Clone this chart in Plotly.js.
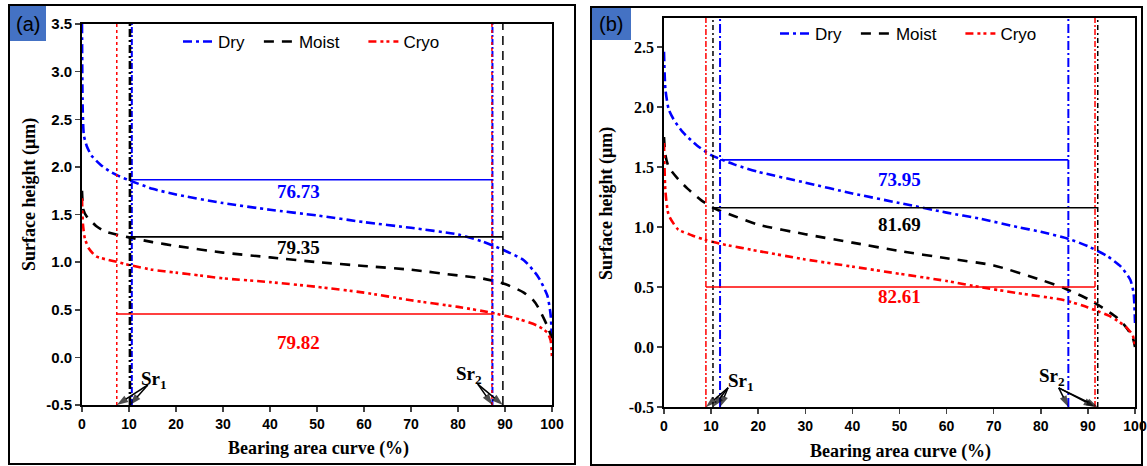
<!DOCTYPE html>
<html>
<head>
<meta charset="utf-8">
<script src="https://cdn.plot.ly/plotly-3.0.1.min.js"></script>
<style>html,body{margin:0;padding:0;background:#fff;}#chart{width:1147px;height:466px;}</style>
</head>
<body>
<div id="chart"></div>
<script>
// ---------- Panel (a) data ----------
const seriesNames = ['Dry', 'Moist', 'Cryo'];
const xA_dry   = [0, 0.15, 0.4, 1, 2, 4, 6, 8, 10, 15, 20, 30, 40, 50, 60, 70, 80, 85, 90, 94, 97, 99, 99.7, 100];
const yA_dry   = [3.5, 2.6, 2.33, 2.22, 2.12, 2.02, 1.95, 1.9, 1.86, 1.77, 1.71, 1.62, 1.55, 1.49, 1.42, 1.36, 1.29, 1.22, 1.12, 1.02, 0.85, 0.65, 0.45, 0.15];
const xA_moist = [0, 0.3, 1, 3, 5, 10, 15, 20, 30, 40, 50, 60, 70, 80, 85, 90, 94, 96, 97, 99, 100];
const yA_moist = [1.75, 1.55, 1.48, 1.38, 1.32, 1.26, 1.21, 1.17, 1.1, 1.05, 1.0, 0.96, 0.92, 0.86, 0.83, 0.77, 0.68, 0.6, 0.53, 0.33, 0.2];
const xA_cryo  = [0, 0.2, 0.6, 1.5, 3, 5, 7.7, 10, 15, 20, 25, 30, 40, 50, 60, 70, 80, 87, 93, 97, 99, 99.7, 100];
const yA_cryo  = [1.67, 1.4, 1.25, 1.14, 1.06, 1.03, 1.0, 0.97, 0.92, 0.89, 0.86, 0.83, 0.79, 0.74, 0.68, 0.6, 0.53, 0.47, 0.4, 0.33, 0.26, 0.18, 0.0];
const sr1A    = [10.6, 10.2, 7.4];     // Dry, Moist, Cryo
const sr2A    = [87.33, 89.55, 87.22];
const levelA  = [1.865, 1.265, 0.455];
const diffA   = ['76.73', '79.35', '79.82'];
const diffPosA = [[46, 1.74], [46, 1.15], [46, 0.16]];

// ---------- Panel (b) data ----------
const xB_dry   = [0, 0.3, 1, 2, 4, 7, 10, 15, 20, 30, 40, 50, 60, 67, 75, 80, 86, 90, 94, 97, 99, 99.7, 100];
const yB_dry   = [2.46, 2.15, 1.98, 1.9, 1.79, 1.68, 1.6, 1.52, 1.46, 1.37, 1.28, 1.2, 1.12, 1.07, 1.0, 0.96, 0.9, 0.84, 0.76, 0.67, 0.56, 0.45, 0.2];
const xB_moist = [0, 0.3, 1, 3, 5, 8, 11, 15, 20, 30, 40, 50, 60, 70, 80, 85, 90, 93, 96, 98, 99.5, 100];
const yB_moist = [1.75, 1.6, 1.5, 1.4, 1.32, 1.22, 1.15, 1.09, 1.02, 0.94, 0.87, 0.8, 0.74, 0.68, 0.56, 0.49, 0.4, 0.33, 0.25, 0.17, 0.08, 0.0];
const xB_cryo  = [0, 0.3, 1, 3, 6, 9, 12, 20, 30, 40, 50, 60, 67, 75, 85, 90, 95, 98, 99.5, 100];
const yB_cryo  = [1.7, 1.3, 1.1, 0.98, 0.93, 0.89, 0.86, 0.8, 0.73, 0.67, 0.61, 0.55, 0.5, 0.45, 0.39, 0.33, 0.25, 0.17, 0.1, 0.0];
const sr1B    = [11.9, 10.4, 8.9];
const sr2B    = [85.85, 92.09, 91.51];
const levelB  = [1.56, 1.16, 0.50];
const diffB   = ['73.95', '81.69', '82.61'];
const diffPosB = [[50, 1.40], [50, 1.02], [50, 0.425]];

const xTicks = [0, 10, 20, 30, 40, 50, 60, 70, 80, 90, 100];
const yTicksA = [-0.5, 0.0, 0.5, 1.0, 1.5, 2.0, 2.5, 3.0, 3.5];
const yTicksB = [-0.5, 0.0, 0.5, 1.0, 1.5, 2.0, 2.5];
const yRangeA = [-0.5, 3.5];
const yRangeB = [-0.5, 2.742];

// ---------- styling ----------
const colors = ['#0000FF', '#000000', '#FF0000'];
const curveDash = ['9px,4px,3px,4px', '10px,8px', '8px,4px,3px,3px,3px,4px'];
const legendPad = ['\u00a0\u00a0', '\u00a0\u00a0\u00a0\u00a0', ''];
const SANS = 'Arial, "Liberation Sans", sans-serif';
const SERIF = '"Times New Roman", "Liberation Serif", serif';

const W = 1147, H = 466;
const px = v => v / W, py = v => 1 - v / H;

const traces = [];
function curves(xs, ys, xa, ya, legend) {
  for (let i = 0; i < 3; i++) {
    traces.push({
      x: xs[i], y: ys[i], xaxis: xa, yaxis: ya, type: 'scatter', mode: 'lines',
      name: seriesNames[i] + legendPad[i], legend: legend,
      line: {color: colors[i], width: 2.6, dash: curveDash[i], shape: 'spline', smoothing: 0.6}
    });
  }
}
curves([xA_dry, xA_moist, xA_cryo], [yA_dry, yA_moist, yA_cryo], 'x', 'y', 'legend');
curves([xB_dry, xB_moist, xB_cryo], [yB_dry, yB_moist, yB_cryo], 'x2', 'y2', 'legend2');

function verticals(sr1, sr2, yr, xa, ya, styles) {
  for (let i = 0; i < 3; i++) {
    [sr1[i], sr2[i]].forEach((s, k) => {
      const st = styles[i][k];
      traces.push({x: [s, s], y: [yr[0], yr[1]], xaxis: xa, yaxis: ya, mode: 'lines',
        showlegend: false, hoverinfo: 'skip', line: {color: colors[i], width: st.w, dash: st.d}});
    });
  }
}
verticals(sr1A, sr2A, yRangeA, 'x', 'y', [
  [{w: 2, d: '6px,2px,2px,2px'}, {w: 2, d: '6px,2px,2px,2px'}],
  [{w: 2.6, d: '8px,3px,2px,3px'}, {w: 1.5, d: '9px,6px'}],
  [{w: 1.5, d: '3px,3px'}, {w: 1.5, d: '3px,3px'}]
]);
verticals(sr1B, sr2B, yRangeB, 'x2', 'y2', [
  [{w: 2, d: '9px,3px,2px,3px'}, {w: 2, d: '9px,3px,2px,3px'}],
  [{w: 1.5, d: '5px,3px,2px,3px'}, {w: 1.5, d: '5px,3px,2px,3px'}],
  [{w: 1.5, d: '6px,2px,2px,2px'}, {w: 1.5, d: '6px,2px,2px,2px'}]
]);

function horizontals(sr1, sr2, lv, xa, ya) {
  for (let i = 0; i < 3; i++) {
    traces.push({x: [sr1[i], sr2[i]], y: [lv[i], lv[i]], xaxis: xa, yaxis: ya, mode: 'lines',
      showlegend: false, hoverinfo: 'skip', line: {color: colors[i], width: 1.6}});
  }
}
horizontals(sr1A, sr2A, levelA, 'x', 'y');
horizontals(sr1B, sr2B, levelB, 'x2', 'y2');

const annotations = [];
function diffLabels(lbls, pos, xa, ya) {
  for (let i = 0; i < 3; i++) {
    annotations.push({x: pos[i][0], y: pos[i][1], xref: xa, yref: ya, text: lbls[i], showarrow: false,
      xanchor: 'center', yanchor: 'middle',
      font: {family: SERIF, size: 19, color: colors[i], weight: 700}});
  }
}
diffLabels(diffA, diffPosA, 'x', 'y');
diffLabels(diffB, diffPosB, 'x2', 'y2');

// Sr labels with arrows (arrow = line trace with an arrow marker at its head)
function srArrows(label, txy, tail, heads, xa, ya) {
  annotations.push({x: txy[0], y: txy[1], xref: xa, yref: ya, text: label, showarrow: false,
    xanchor: 'center', yanchor: 'middle',
    font: {family: SERIF, size: 19, color: '#000', weight: 700}});
  heads.forEach(h => traces.push({x: [tail[0], h], y: [tail[1], -0.5], xaxis: xa, yaxis: ya,
    mode: 'lines+markers', showlegend: false, hoverinfo: 'skip', cliponaxis: false,
    line: {color: '#000', width: 1.5},
    marker: {symbol: 'arrow', size: [0, 12], angleref: 'previous', color: '#000', line: {width: 0}}}));
}
srArrows('Sr<sub>1</sub>', [15.3, -0.24], [14, -0.29], [sr1A[2], sr1A[1]], 'x', 'y');
srArrows('Sr<sub>2</sub>', [82.4, -0.19], [84.2, -0.28], [sr2A[0], sr2A[1]], 'x', 'y');
srArrows('Sr<sub>1</sub>', [16.4, -0.29], [13.6, -0.34], [sr1B[2], sr1B[1], sr1B[0]], 'x2', 'y2');
srArrows('Sr<sub>2</sub>', [82.3, -0.25], [83.8, -0.34], [sr2B[0], sr2B[2], sr2B[1]], 'x2', 'y2');

// axis titles
const titleFont = {family: SERIF, size: 18, color: '#000', weight: 700};
function pAnn(x, y, text, font, angle) {
  annotations.push({x: px(x), y: py(y), xref: 'paper', yref: 'paper', text: text, textangle: angle || 0,
    xanchor: 'center', yanchor: 'middle', showarrow: false, font: font});
}
pAnn(29, 195, 'Surface height (μm)', titleFont, -90);
pAnn(607, 204, 'Surface height (μm)', titleFont, -90);
pAnn(318, 448, 'Bearing area curve (%)', titleFont);
pAnn(900, 451, 'Bearing area curve (%)', titleFont);
// panel tags
pAnn(28, 24, '(a)', {family: SANS, size: 20, color: '#000'});
pAnn(611, 24, '(b)', {family: SANS, size: 20, color: '#000'});

const shapes = [
  {type: 'rect', xref: 'paper', yref: 'paper', x0: px(9), x1: px(575), y0: py(464), y1: py(5), line: {color: '#000', width: 2}},
  {type: 'rect', xref: 'paper', yref: 'paper', x0: px(591), x1: px(1142), y0: py(465), y1: py(7), line: {color: '#000', width: 2}},
  {type: 'rect', xref: 'paper', yref: 'paper', x0: px(10), x1: px(46), y0: py(41), y1: py(6), fillcolor: '#4472C4', line: {width: 0}, layer: 'below'},
  {type: 'rect', xref: 'paper', yref: 'paper', x0: px(592), x1: px(631), y0: py(40), y1: py(8), fillcolor: '#4472C4', line: {width: 0}, layer: 'below'}
];

function xax(domain, anchor) {
  return {domain: domain, anchor: anchor, range: [0, 100], tickvals: xTicks, ticks: 'outside', ticklen: 5, tickwidth: 1.5,
    showline: true, linewidth: 1.8, linecolor: '#000', mirror: true, showgrid: false, zeroline: false,
    tickfont: {family: SANS, size: 14, color: '#000', weight: 700}};
}
function yax(domain, anchor, range, ticks, fam, fmt) {
  return {domain: domain, anchor: anchor, range: range, tickvals: ticks, ticktext: ticks.map(v => v.toFixed(1)),
    ticks: 'outside', ticklen: 5, tickwidth: 1.5, showline: true, linewidth: 1.8, linecolor: '#000', mirror: true,
    showgrid: false, zeroline: false, tickfont: {family: fam, size: fmt, color: '#000', weight: 700}};
}

const legendCommon = {orientation: 'h', xanchor: 'left', yanchor: 'middle', bgcolor: 'rgba(0,0,0,0)',
  font: {family: SANS, size: 17, color: '#000'}, traceorder: 'normal'};

const layout = {
  width: W, height: H, margin: {l: 0, r: 0, t: 0, b: 0},
  paper_bgcolor: '#fff', plot_bgcolor: '#fff', showlegend: true,
  xaxis: xax([px(82), px(552)], 'y'),
  yaxis: yax([1 - 405 / H, 1 - 24 / H], 'x', yRangeA, yTicksA, SANS, 15),
  xaxis2: xax([px(664), px(1135)], 'y2'),
  yaxis2: yax([1 - 407 / H, 1 - 18 / H], 'x2', yRangeB, yTicksB, SERIF, 16),
  legend: Object.assign({x: px(178), y: py(42)}, legendCommon),
  legend2: Object.assign({x: px(775), y: py(34)}, legendCommon),
  annotations: annotations, shapes: shapes
};

Plotly.newPlot('chart', traces, layout, {displayModeBar: false, staticPlot: true});
</script>
</body>
</html>
